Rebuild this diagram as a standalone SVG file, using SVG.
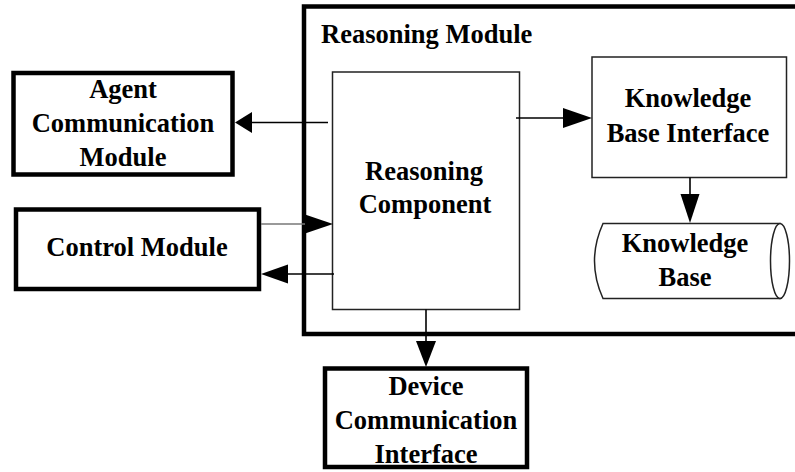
<svg xmlns="http://www.w3.org/2000/svg" width="795" height="472" viewBox="0 0 795 472">
  <style>
    .txt { font-family: "Liberation Serif", "Times New Roman", serif; font-weight: bold; font-size: 26.5px; fill: #000; }
    .mid { text-anchor: middle; }
    .thick { fill: #fff; stroke: #000; stroke-width: 4.5; }
    .thin { fill: #fff; stroke: #222; stroke-width: 1.5; }
    .line { fill: none; stroke: #000; stroke-width: 1.6; }
    .gray { fill: none; stroke: #777; stroke-width: 1.6; }
    .head { fill: #000; stroke: none; }
  </style>
  <rect width="795" height="472" fill="#fff"/>

  <!-- outer container: reasoning module -->
  <g id="reasoning-module">
    <rect class="thick" x="304" y="6.5" width="500" height="327.5"/>
    <text class="txt" x="321" y="43">Reasoning Module</text>
  </g>

  <g id="agent-communication-module">
    <rect class="thick" x="13.5" y="73" width="219" height="101.5"/>
    <text class="txt mid" x="123" y="98">Agent</text>
    <text class="txt mid" x="123" y="132">Communication</text>
    <text class="txt mid" x="123" y="166">Module</text>
  </g>

  <g id="control-module">
    <rect class="thick" x="16" y="209.5" width="243" height="79.5"/>
    <text class="txt mid" x="137" y="256">Control Module</text>
  </g>

  <g id="reasoning-component">
    <rect class="thin" x="332.5" y="72" width="187" height="237.5"/>
    <text class="txt mid" x="424" y="180">Reasoning</text>
    <text class="txt mid" x="425" y="213">Component</text>
  </g>

  <g id="knowledge-base-interface">
    <rect class="thin" x="592" y="57" width="194.5" height="120.5"/>
    <text class="txt mid" x="688" y="107">Knowledge</text>
    <text class="txt mid" x="688" y="142">Base Interface</text>
  </g>

  <g id="knowledge-base">
    <path class="thin" d="M603,223.5 L780,223.5 L780,298.5 L603,298.5 Q586,261 603,223.5 Z"/>
    <ellipse class="thin" cx="780" cy="261" rx="9.5" ry="37.5" fill="none"/>
    <text class="txt mid" x="685" y="252">Knowledge</text>
    <text class="txt mid" x="685" y="286">Base</text>
  </g>

  <g id="device-communication-interface">
    <rect class="thick" x="325" y="368.5" width="202" height="98.5"/>
    <text class="txt mid" x="426" y="395">Device</text>
    <text class="txt mid" x="426" y="429">Communication</text>
    <text class="txt mid" x="426" y="463">Interface</text>
  </g>

  <g id="connectors">
    <!-- reasoning component to agent communication module -->
    <line class="line" x1="328" y1="122.5" x2="250" y2="122.5"/>
    <polygon class="head" points="235,122.5 252,112 252,133"/>
    <!-- reasoning component to knowledge base interface -->
    <line class="line" x1="516" y1="118" x2="565" y2="118"/>
    <polygon class="head" points="592,118 563,108 563,128"/>
    <!-- knowledge base interface to knowledge base -->
    <line class="line" x1="690" y1="177.5" x2="690" y2="196"/>
    <polygon class="head" points="690,223 680.5,194 699.5,194"/>
    <!-- control module to reasoning component -->
    <line class="gray" x1="261" y1="224" x2="306" y2="224"/>
    <polygon class="head" points="333,224 305,214.5 305,233.5"/>
    <!-- reasoning component to control module -->
    <line class="line" x1="334" y1="274" x2="286" y2="274"/>
    <polygon class="head" points="261,274 288,264.5 288,283.5"/>
    <!-- reasoning component to device communication interface -->
    <line class="line" x1="426" y1="309.5" x2="426" y2="344"/>
    <polygon class="head" points="426,367 416,341 436,341"/>
  </g>
</svg>
